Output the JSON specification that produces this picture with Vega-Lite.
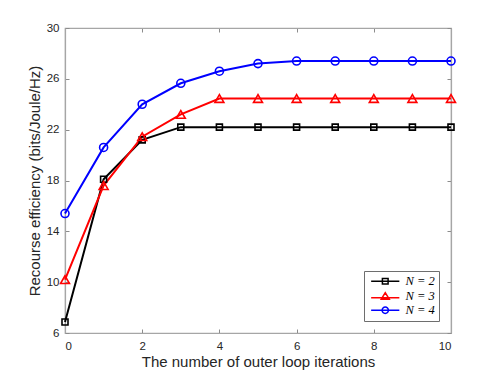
{
  "$schema": "https://vega.github.io/schema/vega-lite/v6.json",
  "autosize": {"type": "none"},
  "padding": {"left": 65, "top": 28, "right": 47, "bottom": 41},
  "width": 386,
  "height": 305,
  "background": "white",
  "config": {
    "view": {"stroke": "#a6a6a6", "strokeWidth": 1.2},
    "font": "Liberation Sans",
    "axis": {
      "grid": false,
      "domain": true,
      "domainColor": "#a6a6a6",
      "domainWidth": 1.2,
      "tickColor": "#8c8c8c",
      "tickSize": -4,
      "labelFont": "Liberation Sans",
      "labelFontSize": 11.5,
      "labelColor": "#262626",
      "titleFont": "Liberation Sans",
      "titleFontSize": 15,
      "titleFontWeight": "normal",
      "titleColor": "#262626"
    },
    "legend": {
      "orient": "bottom-right",
      "offset": 12,
      "strokeColor": "#6e6e6e",
      "fillColor": "white",
      "padding": 4,
      "labelFont": "Liberation Serif",
      "labelFontStyle": "italic",
      "labelFontSize": 12.5,
      "labelColor": "#000000",
      "symbolSize": 36,
      "symbolStrokeWidth": 1.5,
      "symbolFillColor": "transparent",
      "symbolOffset": 11,
      "labelOffset": 14,
      "rowPadding": 1,
      "cornerRadius": 0
    }
  },
  "data": {
    "values": [
      {"x": 0, "y": 6.87, "N": "N = 2"},
      {"x": 1, "y": 18.1, "N": "N = 2"},
      {"x": 2, "y": 21.2, "N": "N = 2"},
      {"x": 3, "y": 22.2, "N": "N = 2"},
      {"x": 4, "y": 22.2, "N": "N = 2"},
      {"x": 5, "y": 22.2, "N": "N = 2"},
      {"x": 6, "y": 22.2, "N": "N = 2"},
      {"x": 7, "y": 22.2, "N": "N = 2"},
      {"x": 8, "y": 22.2, "N": "N = 2"},
      {"x": 9, "y": 22.2, "N": "N = 2"},
      {"x": 10, "y": 22.2, "N": "N = 2"},
      {"x": 0, "y": 10.2, "N": "N = 3"},
      {"x": 1, "y": 17.6, "N": "N = 3"},
      {"x": 2, "y": 21.45, "N": "N = 3"},
      {"x": 3, "y": 23.2, "N": "N = 3"},
      {"x": 4, "y": 24.45, "N": "N = 3"},
      {"x": 5, "y": 24.45, "N": "N = 3"},
      {"x": 6, "y": 24.45, "N": "N = 3"},
      {"x": 7, "y": 24.45, "N": "N = 3"},
      {"x": 8, "y": 24.45, "N": "N = 3"},
      {"x": 9, "y": 24.45, "N": "N = 3"},
      {"x": 10, "y": 24.45, "N": "N = 3"},
      {"x": 0, "y": 15.4, "N": "N = 4"},
      {"x": 1, "y": 20.6, "N": "N = 4"},
      {"x": 2, "y": 24.0, "N": "N = 4"},
      {"x": 3, "y": 25.65, "N": "N = 4"},
      {"x": 4, "y": 26.6, "N": "N = 4"},
      {"x": 5, "y": 27.2, "N": "N = 4"},
      {"x": 6, "y": 27.4, "N": "N = 4"},
      {"x": 7, "y": 27.4, "N": "N = 4"},
      {"x": 8, "y": 27.4, "N": "N = 4"},
      {"x": 9, "y": 27.4, "N": "N = 4"},
      {"x": 10, "y": 27.4, "N": "N = 4"}
    ]
  },
  "layer": [
    {
      "mark": {"type": "point", "opacity": 0},
      "encoding": {
        "x": {"field": "x", "type": "quantitative", "scale": {"domain": [0, 10], "nice": false, "zero": false},
              "axis": {"orient": "top", "labels": false, "title": null, "values": [0, 2, 4, 6, 8, 10]}},
        "y": {"field": "y", "type": "quantitative", "scale": {"domain": [6, 30], "nice": false, "zero": false},
              "axis": {"orient": "right", "labels": false, "title": null, "values": [6, 10, 14, 18, 22, 26, 30]}}
      }
    },
    {
      "layer": [
        {
          "mark": {"type": "line", "strokeWidth": 2},
          "encoding": {
            "x": {"field": "x", "type": "quantitative", "scale": {"domain": [0, 10], "nice": false, "zero": false},
                  "axis": {"orient": "bottom", "values": [0, 2, 4, 6, 8, 10], "title": "The number of outer loop iterations", "labelPadding": 11, "titlePadding": 3}},
            "y": {"field": "y", "type": "quantitative", "scale": {"domain": [6, 30], "nice": false, "zero": false},
                  "axis": {"orient": "left", "values": [6, 10, 14, 18, 22, 26, 30], "title": "Recourse efficiency (bits/Joule/Hz)", "labelPadding": 10, "titlePadding": 4}},
            "color": {"field": "N", "type": "nominal",
                      "scale": {"domain": ["N = 2", "N = 3", "N = 4"], "range": ["#000000", "#ff0000", "#0000ff"]},
                      "legend": {"title": null,
                                 "encode": {"symbols": {"update": {
                                   "shape": {"signal": "datum.value === 'N = 2' ? 'M-4.7,0H4.7M-0.95,-0.95H0.95V0.95H-0.95Z' : datum.value === 'N = 3' ? 'M-4.7,0.5H4.7M0,-1.2L1.35,1H-1.35Z' : 'M-4.7,0H4.7M-1.05,0A1.05,1.05,0,1,1,1.05,0A1.05,1.05,0,1,1,-1.05,0Z'"},
                                   "strokeWidth": {"value": 1.5},
                                   "fill": {"value": "transparent"}
                                 }}}}}
          }
        },
        {
          "transform": [{"filter": "datum.N === 'N = 2'"}],
          "mark": {"type": "point", "shape": "square", "size": 36, "filled": false, "strokeWidth": 1.6, "opacity": 1},
          "encoding": {
            "x": {"field": "x", "type": "quantitative"},
            "y": {"field": "y", "type": "quantitative"},
            "color": {"field": "N", "type": "nominal", "legend": null}
          }
        },
        {
          "transform": [{"filter": "datum.N === 'N = 3'"}],
          "mark": {"type": "point", "shape": "triangle-up", "size": 80, "filled": false, "strokeWidth": 1.6, "opacity": 1},
          "encoding": {
            "x": {"field": "x", "type": "quantitative"},
            "y": {"field": "y", "type": "quantitative"},
            "color": {"field": "N", "type": "nominal", "legend": null}
          }
        },
        {
          "transform": [{"filter": "datum.N === 'N = 4'"}],
          "mark": {"type": "point", "shape": "circle", "size": 64, "filled": false, "strokeWidth": 1.6, "opacity": 1},
          "encoding": {
            "x": {"field": "x", "type": "quantitative"},
            "y": {"field": "y", "type": "quantitative"},
            "color": {"field": "N", "type": "nominal", "legend": null}
          }
        }
      ]
    }
  ],
  "resolve": {"axis": {"x": "independent", "y": "independent"}}
}
